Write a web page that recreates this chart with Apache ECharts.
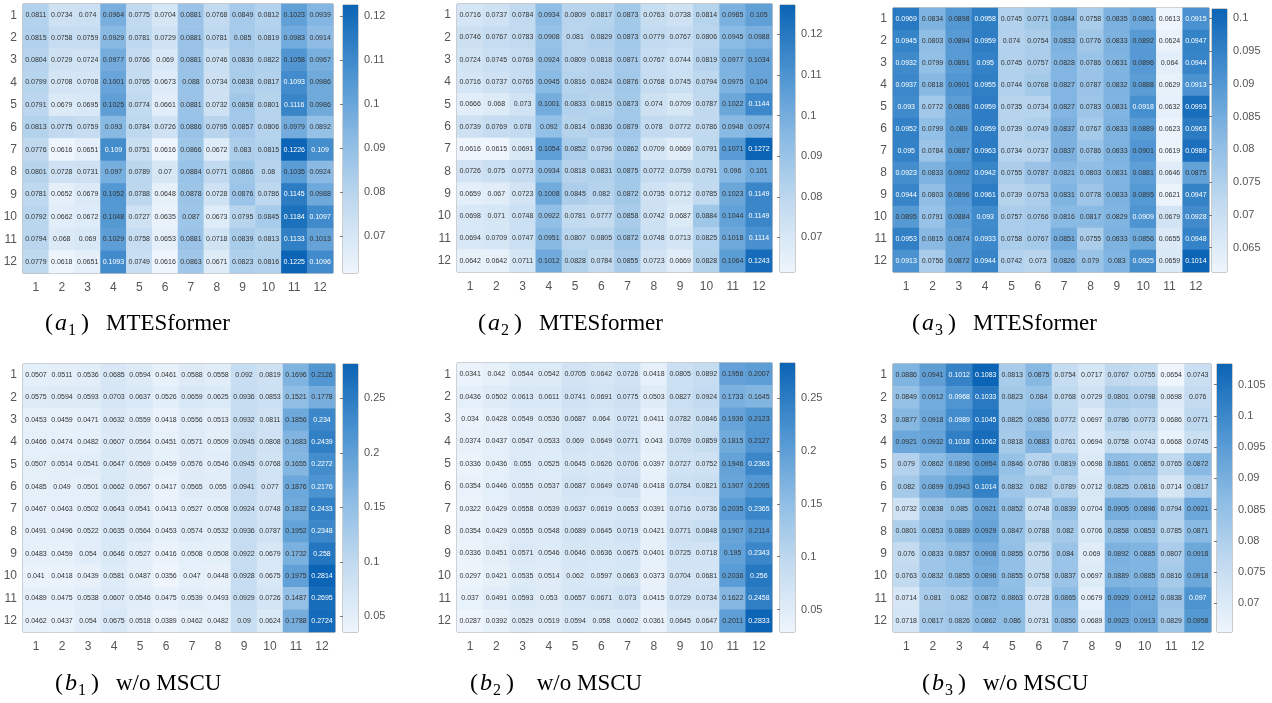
<!DOCTYPE html>
<html>
<head>
<meta charset="utf-8">
<script src="https://cdn.jsdelivr.net/npm/echarts@6/dist/echarts.min.js"></script>
<style>
  html, body { margin: 0; padding: 0; background: #fff; }
  #main { width: 1272px; height: 703px; }
</style>
</head>
<body>
<div id="main"></div>
<script>
// axis categories (rows top→bottom, columns left→right)
var rowNames = ['1','2','3','4','5','6','7','8','9','10','11','12'];
var colNames = ['1','2','3','4','5','6','7','8','9','10','11','12'];

// (a1) MTESformer
var a1 = [
  [0.0811,0.0734,0.074,0.0964,0.0775,0.0704,0.0881,0.0768,0.0849,0.0812,0.1023,0.0939],
  [0.0815,0.0758,0.0759,0.0929,0.0781,0.0729,0.0881,0.0781,0.085,0.0819,0.0983,0.0914],
  [0.0804,0.0729,0.0724,0.0977,0.0766,0.069,0.0881,0.0746,0.0836,0.0822,0.1058,0.0967],
  [0.0799,0.0708,0.0708,0.1001,0.0765,0.0673,0.088,0.0734,0.0838,0.0817,0.1093,0.0986],
  [0.0791,0.0679,0.0695,0.1025,0.0774,0.0661,0.0881,0.0732,0.0858,0.0801,0.1116,0.0986],
  [0.0813,0.0775,0.0759,0.093,0.0784,0.0726,0.0886,0.0795,0.0857,0.0806,0.0979,0.0892],
  [0.0776,0.0616,0.0651,0.109,0.0751,0.0616,0.0866,0.0672,0.083,0.0815,0.1226,0.109],
  [0.0801,0.0728,0.0731,0.097,0.0789,0.07,0.0884,0.0771,0.0866,0.08,0.1035,0.0924],
  [0.0781,0.0652,0.0679,0.1052,0.0788,0.0648,0.0878,0.0728,0.0876,0.0786,0.1145,0.0988],
  [0.0792,0.0662,0.0672,0.1048,0.0727,0.0635,0.087,0.0673,0.0795,0.0845,0.1184,0.1097],
  [0.0794,0.068,0.069,0.1029,0.0758,0.0653,0.0881,0.0718,0.0839,0.0813,0.1133,0.1013],
  [0.0779,0.0618,0.0651,0.1093,0.0749,0.0616,0.0863,0.0671,0.0823,0.0816,0.1225,0.1096]
];
// (a2) MTESformer
var a2 = [
  [0.0716,0.0737,0.0784,0.0934,0.0809,0.0817,0.0873,0.0763,0.0738,0.0814,0.0985,0.105],
  [0.0746,0.0767,0.0783,0.0908,0.081,0.0829,0.0873,0.0779,0.0767,0.0806,0.0945,0.0988],
  [0.0724,0.0745,0.0769,0.0924,0.0809,0.0818,0.0871,0.0767,0.0744,0.0819,0.0977,0.1034],
  [0.0716,0.0737,0.0765,0.0945,0.0816,0.0824,0.0876,0.0768,0.0745,0.0794,0.0975,0.104],
  [0.0666,0.068,0.073,0.1001,0.0833,0.0815,0.0873,0.074,0.0709,0.0787,0.1022,0.1144],
  [0.0739,0.0769,0.078,0.092,0.0814,0.0836,0.0879,0.078,0.0772,0.0786,0.0948,0.0974],
  [0.0616,0.0615,0.0691,0.1054,0.0852,0.0796,0.0862,0.0709,0.0669,0.0791,0.1071,0.1272],
  [0.0726,0.075,0.0773,0.0934,0.0818,0.0831,0.0875,0.0772,0.0759,0.0791,0.096,0.101],
  [0.0659,0.067,0.0723,0.1008,0.0845,0.082,0.0872,0.0735,0.0712,0.0785,0.1023,0.1149],
  [0.0698,0.071,0.0748,0.0922,0.0781,0.0777,0.0858,0.0742,0.0687,0.0884,0.1044,0.1149],
  [0.0694,0.0709,0.0747,0.0951,0.0807,0.0805,0.0872,0.0748,0.0713,0.0825,0.1018,0.1114],
  [0.0642,0.0642,0.0711,0.1012,0.0828,0.0784,0.0855,0.0723,0.0669,0.0828,0.1064,0.1243]
];
// (a3) MTESformer
var a3 = [
  [0.0969,0.0834,0.0898,0.0958,0.0745,0.0771,0.0844,0.0758,0.0835,0.0861,0.0613,0.0915],
  [0.0945,0.0803,0.0894,0.0959,0.074,0.0754,0.0833,0.0776,0.0833,0.0892,0.0624,0.0947],
  [0.0932,0.0799,0.0891,0.095,0.0745,0.0757,0.0828,0.0786,0.0831,0.0896,0.064,0.0944],
  [0.0937,0.0818,0.0901,0.0955,0.0744,0.0768,0.0827,0.0787,0.0832,0.0888,0.0629,0.0913],
  [0.093,0.0772,0.0886,0.0959,0.0735,0.0734,0.0827,0.0783,0.0831,0.0918,0.0632,0.0993],
  [0.0952,0.0799,0.089,0.0959,0.0739,0.0749,0.0837,0.0767,0.0833,0.0889,0.0623,0.0963],
  [0.095,0.0784,0.0887,0.0963,0.0734,0.0737,0.0837,0.0786,0.0833,0.0901,0.0619,0.0989],
  [0.0923,0.0833,0.0902,0.0942,0.0755,0.0787,0.0821,0.0803,0.0831,0.0881,0.0646,0.0875],
  [0.0944,0.0803,0.0896,0.0961,0.0739,0.0753,0.0831,0.0778,0.0833,0.0895,0.0621,0.0947],
  [0.0895,0.0791,0.0884,0.093,0.0757,0.0766,0.0816,0.0817,0.0829,0.0909,0.0679,0.0928],
  [0.0953,0.0815,0.0874,0.0933,0.0758,0.0767,0.0851,0.0755,0.0833,0.0856,0.0655,0.0948],
  [0.0913,0.0756,0.0872,0.0944,0.0742,0.073,0.0826,0.079,0.083,0.0925,0.0659,0.1014]
];
// (b1) w/o MSCU
var b1 = [
  [0.0507,0.0511,0.0536,0.0685,0.0594,0.0461,0.0588,0.0558,0.092,0.0819,0.1696,0.2126],
  [0.0575,0.0594,0.0593,0.0703,0.0637,0.0526,0.0659,0.0625,0.0936,0.0853,0.1521,0.1778],
  [0.0453,0.0459,0.0471,0.0632,0.0559,0.0418,0.0556,0.0513,0.0932,0.0811,0.1856,0.234],
  [0.0466,0.0474,0.0482,0.0607,0.0564,0.0451,0.0571,0.0509,0.0945,0.0808,0.1683,0.2439],
  [0.0507,0.0514,0.0541,0.0647,0.0569,0.0459,0.0576,0.0546,0.0945,0.0768,0.1655,0.2272],
  [0.0485,0.049,0.0501,0.0662,0.0567,0.0417,0.0565,0.055,0.0941,0.077,0.1876,0.2176],
  [0.0467,0.0463,0.0502,0.0643,0.0541,0.0413,0.0527,0.0508,0.0924,0.0748,0.1832,0.2433],
  [0.0491,0.0496,0.0522,0.0635,0.0564,0.0453,0.0574,0.0532,0.0936,0.0787,0.1952,0.2348],
  [0.0483,0.0459,0.054,0.0646,0.0527,0.0416,0.0508,0.0508,0.0922,0.0679,0.1732,0.258],
  [0.041,0.0418,0.0439,0.0581,0.0487,0.0356,0.047,0.0448,0.0928,0.0675,0.1975,0.2814],
  [0.0489,0.0475,0.0538,0.0607,0.0546,0.0475,0.0539,0.0493,0.0929,0.0726,0.1487,0.2695],
  [0.0462,0.0437,0.054,0.0675,0.0518,0.0389,0.0462,0.0482,0.09,0.0624,0.1788,0.2724]
];
// (b2) w/o MSCU
var b2 = [
  [0.0341,0.042,0.0544,0.0542,0.0705,0.0642,0.0726,0.0418,0.0805,0.0892,0.1956,0.2007],
  [0.0436,0.0502,0.0613,0.0611,0.0741,0.0691,0.0775,0.0503,0.0827,0.0924,0.1733,0.1645],
  [0.034,0.0428,0.0549,0.0536,0.0687,0.064,0.0721,0.0411,0.0782,0.0846,0.1936,0.2123],
  [0.0374,0.0437,0.0547,0.0533,0.069,0.0649,0.0771,0.043,0.0769,0.0859,0.1815,0.2127],
  [0.0336,0.0436,0.055,0.0525,0.0645,0.0626,0.0706,0.0397,0.0727,0.0752,0.1946,0.2363],
  [0.0354,0.0446,0.0555,0.0537,0.0687,0.0649,0.0746,0.0418,0.0784,0.0821,0.1907,0.2095],
  [0.0322,0.0429,0.0558,0.0539,0.0637,0.0619,0.0653,0.0391,0.0716,0.0736,0.2035,0.2365],
  [0.0354,0.0429,0.0555,0.0548,0.0689,0.0645,0.0719,0.0421,0.0771,0.0848,0.1907,0.2114],
  [0.0336,0.0451,0.0571,0.0546,0.0646,0.0636,0.0675,0.0401,0.0725,0.0718,0.195,0.2343],
  [0.0297,0.0421,0.0535,0.0514,0.062,0.0597,0.0663,0.0373,0.0704,0.0681,0.2036,0.256],
  [0.037,0.0491,0.0593,0.053,0.0657,0.0671,0.073,0.0415,0.0729,0.0734,0.1622,0.2458],
  [0.0287,0.0392,0.0529,0.0519,0.0594,0.058,0.0602,0.0361,0.0645,0.0647,0.2011,0.2833]
];
// (b3) w/o MSCU
var b3 = [
  [0.0886,0.0941,0.1012,0.1083,0.0813,0.0875,0.0754,0.0717,0.0767,0.0755,0.0654,0.0743],
  [0.0849,0.0912,0.0968,0.1033,0.0823,0.084,0.0768,0.0729,0.0801,0.0798,0.0698,0.076],
  [0.0877,0.0918,0.0989,0.1045,0.0825,0.0856,0.0772,0.0697,0.0786,0.0773,0.0686,0.0771],
  [0.0921,0.0932,0.1018,0.1062,0.0818,0.0883,0.0761,0.0694,0.0758,0.0743,0.0668,0.0745],
  [0.079,0.0862,0.0896,0.0954,0.0846,0.0786,0.0819,0.0698,0.0861,0.0852,0.0765,0.0872],
  [0.082,0.0899,0.0943,0.1014,0.0832,0.082,0.0789,0.0712,0.0825,0.0816,0.0714,0.0817],
  [0.0732,0.0838,0.085,0.0921,0.0852,0.0748,0.0839,0.0704,0.0905,0.0896,0.0794,0.0921],
  [0.0801,0.0853,0.0889,0.0929,0.0847,0.0788,0.082,0.0706,0.0858,0.0853,0.0785,0.0871],
  [0.076,0.0833,0.0857,0.0908,0.0855,0.0756,0.084,0.069,0.0892,0.0885,0.0807,0.0918],
  [0.0763,0.0832,0.0855,0.0896,0.0855,0.0758,0.0837,0.0697,0.0889,0.0885,0.0816,0.0918],
  [0.0714,0.081,0.082,0.0872,0.0863,0.0728,0.0865,0.0679,0.0929,0.0912,0.0838,0.097],
  [0.0718,0.0817,0.0826,0.0862,0.086,0.0731,0.0856,0.0689,0.0923,0.0913,0.0829,0.0958]
];

var captionLetters = ['a','a','a','b','b','b'];
var captionIndex = ['1','2','3','1','2','3'];
var captionNames = ['MTESformer','MTESformer','MTESformer','w/o MSCU',' w/o MSCU','w/o MSCU'];

// layout of each panel: heatmap box, colour bar box, caption position
var panels = [
  { data: a1, heat: [23, 4, 310, 269],  bar: [343, 5, 15, 268],  split: 5, cap: [45, 327] },
  { data: a2, heat: [457, 4, 315, 268], bar: [780, 5, 15, 267],  split: 5, cap: [478, 327] },
  { data: a3, heat: [893, 8, 316, 264], bar: [1212, 9, 15, 263], split: 8, cap: [912, 327] },
  { data: b1, heat: [23, 364, 312, 268], bar: [343, 364, 15, 268], split: 5, cap: [55, 687] },
  { data: b2, heat: [457, 363, 315, 269], bar: [780, 363, 15, 269], split: 5, cap: [470, 687] },
  { data: b3, heat: [893, 364, 318, 268], bar: [1217, 364, 15, 268], split: 8, cap: [922, 687] }
];

var colors = ['#eef5fc', '#c3dbf0', '#8bbbe4', '#4a92d0', '#0b64b5'];
var stops = colors.map(function (c, i) { return { offset: i / (colors.length - 1), color: c }; });

var chart = echarts.init(document.getElementById('main'));

var grid = [], xAxis = [], yAxis = [], heatSeries = [], barSeries = [], visualMap = [], graphic = [];

panels.forEach(function (p, i) {
    var flat = [].concat.apply([], p.data);
    var min = Math.min.apply(null, flat);
    var max = Math.max.apply(null, flat);

    // heatmap grid
    grid.push({ left: p.heat[0], top: p.heat[1], width: p.heat[2], height: p.heat[3],
        show: true, borderColor: '#8c8c8c', borderWidth: 1, backgroundColor: 'transparent' });
    xAxis.push({ type: 'category', gridIndex: 2 * i, data: colNames, position: 'bottom',
        axisLine: { show: false }, axisTick: { show: false }, splitArea: { show: false },
        axisLabel: { color: '#555', fontSize: 12, margin: 9, fontFamily: 'Liberation Sans' } });
    yAxis.push({ type: 'category', gridIndex: 2 * i, data: rowNames, inverse: true,
        axisLine: { show: false }, axisTick: { show: false },
        axisLabel: { color: '#555', fontSize: 12, margin: 6, fontFamily: 'Liberation Sans' } });

    // colour bar grid
    grid.push({ left: p.bar[0], top: p.bar[1], width: p.bar[2], height: p.bar[3],
        show: true, borderColor: '#9a9a9a', borderWidth: 1, backgroundColor: 'transparent' });
    xAxis.push({ type: 'value', gridIndex: 2 * i + 1, min: 0, max: 1, show: false });
    yAxis.push({ type: 'value', gridIndex: 2 * i + 1, min: min, max: max, position: 'right',
        splitNumber: p.split, splitLine: { show: false }, axisLine: { show: false },
        axisTick: { show: true, inside: true, length: 3, lineStyle: { color: '#777' } },
        axisLabel: { color: '#555', fontSize: 11, margin: 6, fontFamily: 'Liberation Sans',
            showMinLabel: false, showMaxLabel: false,
            formatter: function (v) { return String(+v.toFixed(4)); } } });

    var items = [];
    p.data.forEach(function (row, r) {
        row.forEach(function (v, c) {
            var t = (v - min) / (max - min);
            items.push({ value: [c, r, v], label: { color: t > 0.73 ? '#ffffff' : '#333333' } });
        });
    });

    heatSeries.push({
        type: 'heatmap', xAxisIndex: 2 * i, yAxisIndex: 2 * i, data: items,
        itemStyle: { borderWidth: 0 },
        label: { show: true, fontSize: 7, fontFamily: 'Liberation Sans',
            formatter: function (d) { return String(d.value[2]); } },
        emphasis: { disabled: true }
    });

    barSeries.push({
        type: 'custom', xAxisIndex: 2 * i + 1, yAxisIndex: 2 * i + 1, silent: true,
        data: [[0, min, max]],
        renderItem: function (params, api) {
            var p0 = api.coord([0, api.value(1)]);
            var p1 = api.coord([1, api.value(2)]);
            return { type: 'rect',
                shape: { x: p0[0], y: p1[1], width: p1[0] - p0[0], height: p0[1] - p1[1] },
                style: { fill: new echarts.graphic.LinearGradient(0, 1, 0, 0, stops) } };
        }
    });

    visualMap.push({ type: 'continuous', show: false, seriesIndex: i, dimension: 2,
        min: min, max: max, inRange: { color: colors } });

    // caption: (a_1) MTESformer, math part set a little looser like an equation
    graphic.push({
        type: 'text', left: p.cap[0], top: p.cap[1] - 15,
        style: {
            text: '{p|(}{i|' + captionLetters[i] + '}{s|' + captionIndex[i] + '}{q|)}{n|' + captionNames[i] + '}',
            rich: {
                p: { fontFamily: 'Liberation Serif', fontSize: 24, color: '#111', lineHeight: 30, padding: [0, 2, 0, 0] },
                i: { fontFamily: 'Liberation Serif', fontSize: 24, fontStyle: 'italic', color: '#111', lineHeight: 30, padding: [0, 1, 0, 0] },
                s: { fontFamily: 'Liberation Serif', fontSize: 16, color: '#111', lineHeight: 30, verticalAlign: 'bottom', padding: [0, 5, 0, 0] },
                q: { fontFamily: 'Liberation Serif', fontSize: 24, color: '#111', lineHeight: 30, padding: [0, 17, 0, 0] },
                n: { fontFamily: 'Liberation Serif', fontSize: 23, color: '#111', lineHeight: 30 }
            }
        }
    });
});

chart.setOption({
    backgroundColor: '#fff',
    animation: false,
    grid: grid,
    xAxis: xAxis,
    yAxis: yAxis,
    visualMap: visualMap,
    series: heatSeries.concat(barSeries),
    graphic: graphic
});
</script>
</body>
</html>
